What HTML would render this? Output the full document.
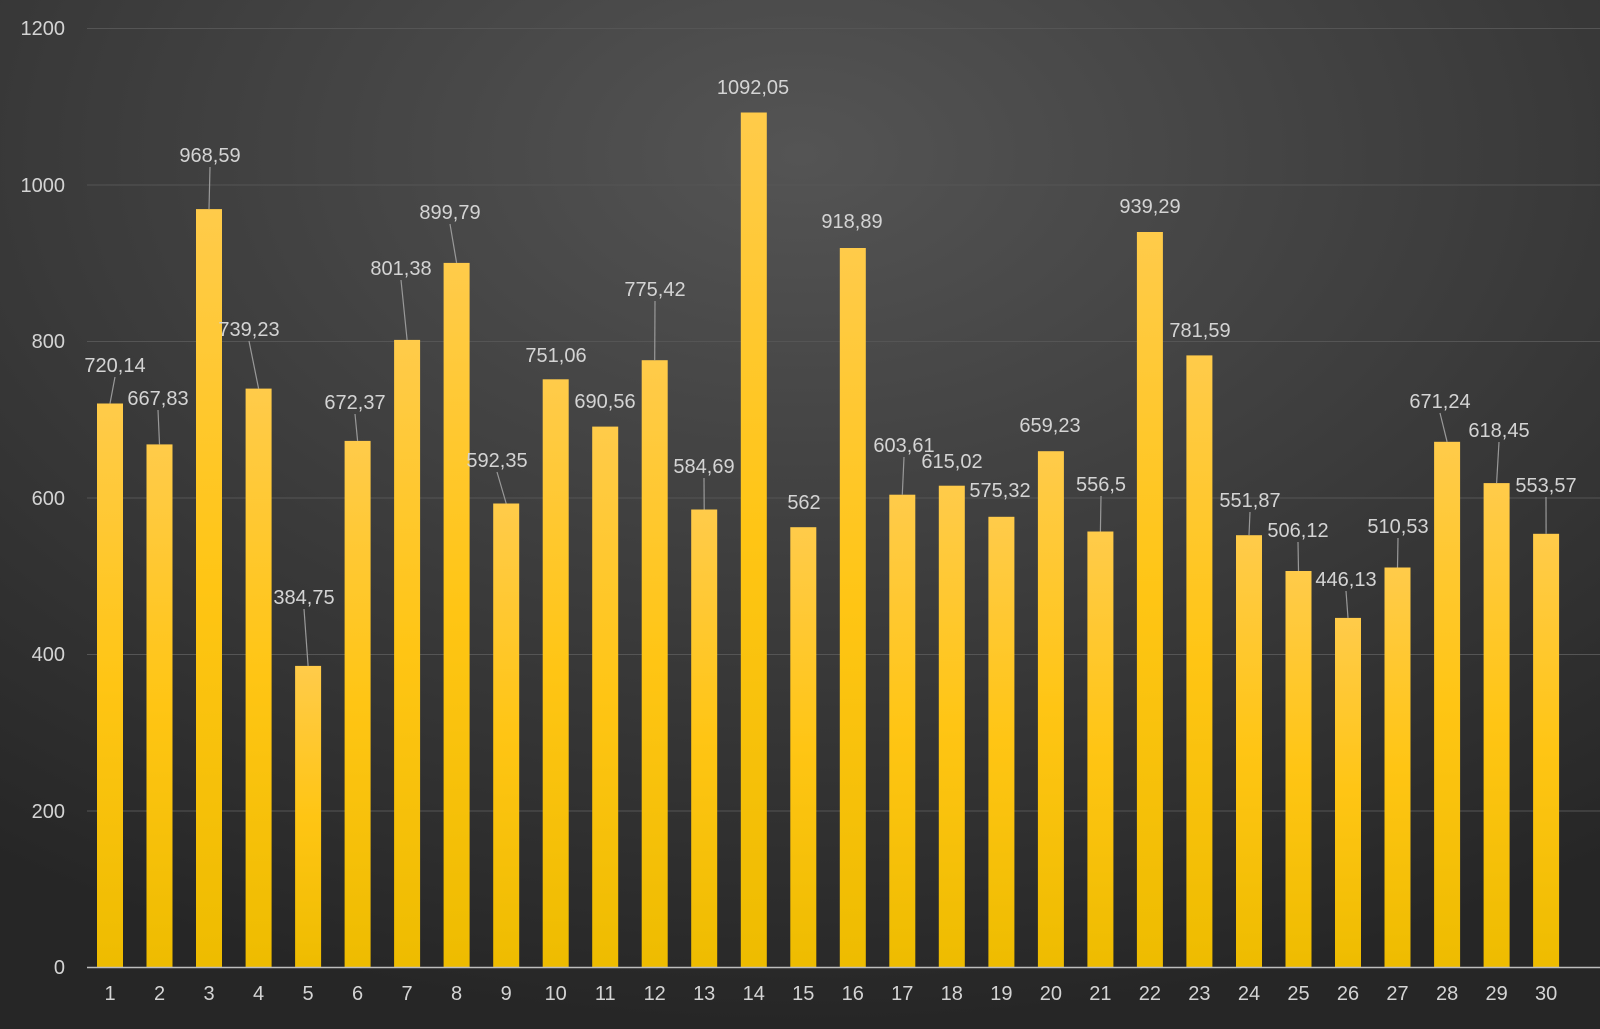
<!DOCTYPE html>
<html><head><meta charset="utf-8"><style>
html,body{margin:0;padding:0;width:1600px;height:1029px;overflow:hidden;background:#2e2e2e}
svg{display:block}
text{font-family:"Liberation Sans",sans-serif;fill:#d4d4d4}
</style></head><body>
<svg width="1600" height="1029" viewBox="0 0 1600 1029">
<defs>
<radialGradient id="bg" cx="0.5" cy="0.15" r="0.85">
<stop offset="0" stop-color="#545454"/><stop offset="0.6" stop-color="#383838"/><stop offset="1" stop-color="#262626"/>
</radialGradient>
<linearGradient id="bar" x1="0" y1="0" x2="0" y2="1">
<stop offset="0" stop-color="#ffcb4a"/><stop offset="0.5" stop-color="#ffc514"/><stop offset="1" stop-color="#eebc00"/>
</linearGradient>
</defs>
<rect width="1600" height="1029" fill="url(#bg)"/>
<g stroke="#555" stroke-width="1">
<line x1="87" y1="28.5" x2="1600" y2="28.5"/>
<line x1="87" y1="185" x2="1600" y2="185"/>
<line x1="87" y1="341.5" x2="1600" y2="341.5"/>
<line x1="87" y1="498" x2="1600" y2="498"/>
<line x1="87" y1="654.5" x2="1600" y2="654.5"/>
<line x1="87" y1="811" x2="1600" y2="811"/>
</g>
<g font-size="20" text-anchor="end">
<text x="65" y="35">1200</text><text x="65" y="192">1000</text><text x="65" y="348">800</text>
<text x="65" y="505">600</text><text x="65" y="661">400</text><text x="65" y="818">200</text><text x="65" y="974">0</text>
</g>
<g fill="url(#bar)">
<rect x="97" y="403.5" width="26" height="563.5"/>
<rect x="146.5" y="444.4" width="26" height="522.6"/>
<rect x="196" y="209.1" width="26" height="757.9"/>
<rect x="245.6" y="388.6" width="26" height="578.4"/>
<rect x="295.1" y="665.9" width="26" height="301.1"/>
<rect x="344.6" y="440.9" width="26" height="526.1"/>
<rect x="394.1" y="339.9" width="26" height="627.1"/>
<rect x="443.6" y="262.9" width="26" height="704.1"/>
<rect x="493.2" y="503.5" width="26" height="463.5"/>
<rect x="542.7" y="379.3" width="26" height="587.7"/>
<rect x="592.2" y="426.6" width="26" height="540.4"/>
<rect x="641.7" y="360.2" width="26" height="606.8"/>
<rect x="691.2" y="509.5" width="26" height="457.5"/>
<rect x="740.8" y="112.5" width="26" height="854.5"/>
<rect x="790.3" y="527.2" width="26" height="439.8"/>
<rect x="839.8" y="248" width="26" height="719"/>
<rect x="889.3" y="494.7" width="26" height="472.3"/>
<rect x="938.8" y="485.7" width="26" height="481.3"/>
<rect x="988.4" y="516.8" width="26" height="450.2"/>
<rect x="1037.9" y="451.2" width="26" height="515.8"/>
<rect x="1087.4" y="531.5" width="26" height="435.5"/>
<rect x="1136.9" y="232" width="26" height="735"/>
<rect x="1186.4" y="355.4" width="26" height="611.6"/>
<rect x="1236" y="535.2" width="26" height="431.8"/>
<rect x="1285.5" y="571" width="26" height="396"/>
<rect x="1335" y="617.9" width="26" height="349.1"/>
<rect x="1384.5" y="567.5" width="26" height="399.5"/>
<rect x="1434.1" y="441.8" width="26" height="525.2"/>
<rect x="1483.6" y="483.1" width="26" height="483.9"/>
<rect x="1533.1" y="533.8" width="26" height="433.2"/>
</g>
<g stroke="#999" stroke-width="1.2">
<line x1="110" y1="403.5" x2="115" y2="377"/>
<line x1="159.5" y1="444.4" x2="158" y2="410"/>
<line x1="209" y1="209.1" x2="210" y2="167"/>
<line x1="258.6" y1="388.6" x2="249" y2="341"/>
<line x1="308.1" y1="665.9" x2="304" y2="609"/>
<line x1="357.6" y1="440.9" x2="355" y2="414"/>
<line x1="407.1" y1="339.9" x2="401" y2="280"/>
<line x1="456.6" y1="262.9" x2="450" y2="224"/>
<line x1="506.2" y1="503.5" x2="497" y2="472"/>
<line x1="654.7" y1="360.2" x2="655" y2="301"/>
<line x1="704.2" y1="509.5" x2="704" y2="478"/>
<line x1="902.3" y1="494.7" x2="904" y2="457"/>
<line x1="1100.4" y1="531.5" x2="1101" y2="496"/>
<line x1="1249" y1="535.2" x2="1250" y2="512"/>
<line x1="1298.5" y1="571" x2="1298" y2="542"/>
<line x1="1348" y1="617.9" x2="1346" y2="591"/>
<line x1="1397.5" y1="567.5" x2="1398" y2="538"/>
<line x1="1447.1" y1="441.8" x2="1440" y2="413"/>
<line x1="1496.6" y1="483.1" x2="1499" y2="442"/>
<line x1="1546.1" y1="533.8" x2="1546" y2="497"/>
</g>
<g font-size="20" text-anchor="middle">
<text x="115" y="372">720,14</text>
<text x="158" y="405">667,83</text>
<text x="210" y="162">968,59</text>
<text x="249" y="336">739,23</text>
<text x="304" y="604">384,75</text>
<text x="355" y="409">672,37</text>
<text x="401" y="275">801,38</text>
<text x="450" y="219">899,79</text>
<text x="497" y="467">592,35</text>
<text x="556" y="362">751,06</text>
<text x="605" y="408">690,56</text>
<text x="655" y="296">775,42</text>
<text x="704" y="473">584,69</text>
<text x="753" y="94">1092,05</text>
<text x="804" y="509">562</text>
<text x="852" y="228">918,89</text>
<text x="904" y="452">603,61</text>
<text x="952" y="468">615,02</text>
<text x="1000" y="497">575,32</text>
<text x="1050" y="432">659,23</text>
<text x="1101" y="491">556,5</text>
<text x="1150" y="213">939,29</text>
<text x="1200" y="337">781,59</text>
<text x="1250" y="507">551,87</text>
<text x="1298" y="537">506,12</text>
<text x="1346" y="586">446,13</text>
<text x="1398" y="533">510,53</text>
<text x="1440" y="408">671,24</text>
<text x="1499" y="437">618,45</text>
<text x="1546" y="492">553,57</text>
</g>
<g font-size="20" text-anchor="middle">
<text x="110" y="1000">1</text><text x="159.5" y="1000">2</text><text x="209" y="1000">3</text><text x="258.6" y="1000">4</text><text x="308.1" y="1000">5</text>
<text x="357.6" y="1000">6</text><text x="407.1" y="1000">7</text><text x="456.6" y="1000">8</text><text x="506.2" y="1000">9</text><text x="555.7" y="1000">10</text>
<text x="605.2" y="1000">11</text><text x="654.7" y="1000">12</text><text x="704.2" y="1000">13</text><text x="753.8" y="1000">14</text><text x="803.3" y="1000">15</text>
<text x="852.8" y="1000">16</text><text x="902.3" y="1000">17</text><text x="951.8" y="1000">18</text><text x="1001.4" y="1000">19</text><text x="1050.9" y="1000">20</text>
<text x="1100.4" y="1000">21</text><text x="1149.9" y="1000">22</text><text x="1199.4" y="1000">23</text><text x="1249" y="1000">24</text><text x="1298.5" y="1000">25</text>
<text x="1348" y="1000">26</text><text x="1397.5" y="1000">27</text><text x="1447.1" y="1000">28</text><text x="1496.6" y="1000">29</text><text x="1546.1" y="1000">30</text>
</g>
<line x1="87" y1="967.5" x2="1600" y2="967.5" stroke="#bdbdbd" stroke-width="1.5"/>
</svg>
</body></html>
